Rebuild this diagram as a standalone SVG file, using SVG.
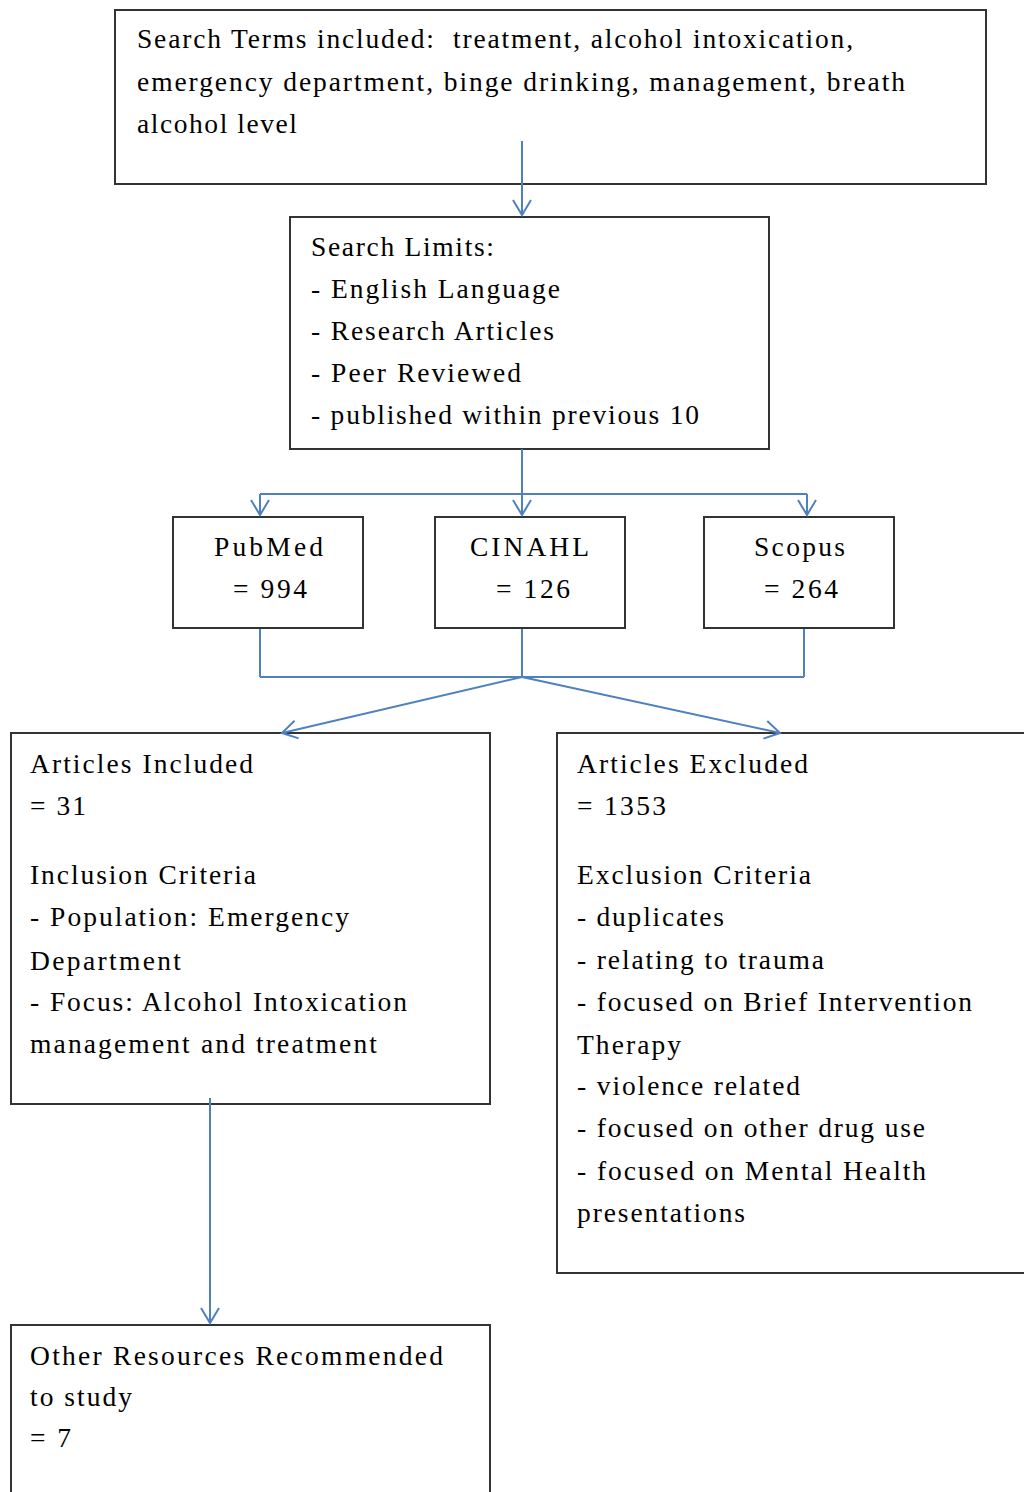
<svg xmlns="http://www.w3.org/2000/svg" width="1024" height="1492" viewBox="0 0 1024 1492">
<style>
.box{fill:#ffffff;stroke:#333333;stroke-width:2}
.t{font-family:"Liberation Serif","Times New Roman",serif;font-size:27.5px;fill:#000000}
.c{fill:none;stroke:#4f81bd;stroke-width:2}
</style>
<defs>
<marker id="ah" markerUnits="userSpaceOnUse" markerWidth="20" markerHeight="24" viewBox="-18 -12 20 24" refX="0" refY="0" orient="auto" overflow="visible">
<path d="M-15,-9 L0,0 L-15,9" fill="none" stroke="#4f81bd" stroke-width="2"/>
</marker>
</defs>
<rect width="1024" height="1492" fill="#ffffff"/>
<g id="search-terms">
<rect class="box" x="115" y="10" width="871" height="174"/>
<text class="t" x="137" y="48" textLength="716" lengthAdjust="spacing" xml:space="preserve">Search Terms included:  treatment, alcohol intoxication,</text>
<text class="t" x="137" y="91" textLength="768" lengthAdjust="spacing">emergency department, binge drinking, management, breath</text>
<text class="t" x="137" y="133" textLength="160" lengthAdjust="spacing">alcohol level</text>
</g>
<g id="search-limits">
<rect class="box" x="290" y="217" width="479" height="232"/>
<text class="t" x="311" y="256" textLength="183" lengthAdjust="spacing">Search Limits:</text>
<text class="t" x="311" y="298" textLength="249" lengthAdjust="spacing">- English Language</text>
<text class="t" x="311" y="340" textLength="243" lengthAdjust="spacing">- Research Articles</text>
<text class="t" x="311" y="382" textLength="210" lengthAdjust="spacing">- Peer Reviewed</text>
<text class="t" x="311" y="424" textLength="388" lengthAdjust="spacing">- published within previous 10</text>
</g>
<g id="pubmed">
<rect class="box" x="173" y="517" width="190" height="111"/>
<text class="t" x="214" y="556" textLength="109" lengthAdjust="spacing">PubMed</text>
<text class="t" x="233" y="598" textLength="74" lengthAdjust="spacing">= 994</text>
</g>
<g id="cinahl">
<rect class="box" x="435" y="517" width="190" height="111"/>
<text class="t" x="470" y="556" textLength="119" lengthAdjust="spacing">CINAHL</text>
<text class="t" x="496" y="598" textLength="74" lengthAdjust="spacing">= 126</text>
</g>
<g id="scopus">
<rect class="box" x="704" y="517" width="190" height="111"/>
<text class="t" x="754" y="556" textLength="91" lengthAdjust="spacing">Scopus</text>
<text class="t" x="764" y="598" textLength="74" lengthAdjust="spacing">= 264</text>
</g>
<g id="included">
<rect class="box" x="11" y="733" width="479" height="371"/>
<text class="t" x="30" y="773" textLength="223" lengthAdjust="spacing">Articles Included</text>
<text class="t" x="30" y="815" textLength="56" lengthAdjust="spacing">= 31</text>
<text class="t" x="30" y="884" textLength="226" lengthAdjust="spacing">Inclusion Criteria</text>
<text class="t" x="30" y="926" textLength="319" lengthAdjust="spacing">- Population: Emergency</text>
<text class="t" x="30" y="970" textLength="151" lengthAdjust="spacing">Department</text>
<text class="t" x="30" y="1011" textLength="377" lengthAdjust="spacing">- Focus: Alcohol Intoxication</text>
<text class="t" x="30" y="1053" textLength="347" lengthAdjust="spacing">management and treatment</text>
</g>
<g id="excluded">
<rect class="box" x="557" y="733" width="480" height="540"/>
<text class="t" x="577" y="773" textLength="231" lengthAdjust="spacing">Articles Excluded</text>
<text class="t" x="577" y="815" textLength="89" lengthAdjust="spacing">= 1353</text>
<text class="t" x="577" y="884" textLength="234" lengthAdjust="spacing">Exclusion Criteria</text>
<text class="t" x="577" y="926" textLength="147" lengthAdjust="spacing">- duplicates</text>
<text class="t" x="577" y="969" textLength="247" lengthAdjust="spacing">- relating to trauma</text>
<text class="t" x="577" y="1011" textLength="395" lengthAdjust="spacing">- focused on Brief Intervention</text>
<text class="t" x="577" y="1054" textLength="104" lengthAdjust="spacing">Therapy</text>
<text class="t" x="577" y="1095" textLength="223" lengthAdjust="spacing">- violence related</text>
<text class="t" x="577" y="1137" textLength="348" lengthAdjust="spacing">- focused on other drug use</text>
<text class="t" x="577" y="1180" textLength="349" lengthAdjust="spacing">- focused on Mental Health</text>
<text class="t" x="577" y="1222" textLength="168" lengthAdjust="spacing">presentations</text>
</g>
<g id="other-resources">
<rect class="box" x="11" y="1325" width="479" height="180"/>
<text class="t" x="30" y="1365" textLength="413" lengthAdjust="spacing">Other Resources Recommended</text>
<text class="t" x="30" y="1406" textLength="102" lengthAdjust="spacing">to study</text>
<text class="t" x="30" y="1447" textLength="41" lengthAdjust="spacing">= 7</text>
</g>
<g id="connectors">
<line class="c" x1="522" y1="141" x2="522" y2="215" marker-end="url(#ah)"/>
<line class="c" x1="522" y1="449" x2="522" y2="515" marker-end="url(#ah)"/>
<line class="c" x1="260" y1="494" x2="807" y2="494"/>
<line class="c" x1="260" y1="494" x2="260" y2="515" marker-end="url(#ah)"/>
<line class="c" x1="807" y1="494" x2="807" y2="515" marker-end="url(#ah)"/>
<line class="c" x1="260" y1="629" x2="260" y2="677"/>
<line class="c" x1="522" y1="629" x2="522" y2="677"/>
<line class="c" x1="804" y1="629" x2="804" y2="677"/>
<line class="c" x1="260" y1="677" x2="804" y2="677"/>
<line class="c" x1="522" y1="677" x2="282" y2="733" marker-end="url(#ah)"/>
<line class="c" x1="522" y1="677" x2="780" y2="733" marker-end="url(#ah)"/>
<line class="c" x1="210" y1="1098" x2="210" y2="1323" marker-end="url(#ah)"/>
</g>
</svg>
